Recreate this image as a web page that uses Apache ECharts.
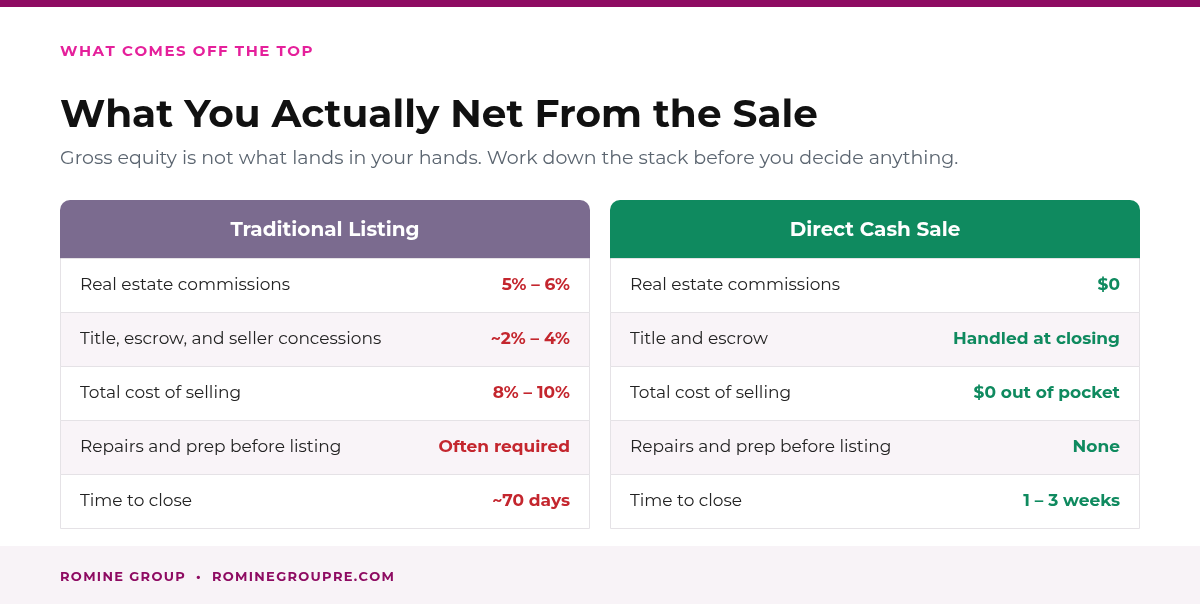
<!DOCTYPE html>
<html>
<head>
<meta charset="utf-8">
<script src="https://cdn.jsdelivr.net/npm/echarts@6/dist/echarts.min.js"></script>
<style>
  html, body { margin: 0; padding: 0; background: #fff; }
  #chart { width: 1200px; height: 604px; }
</style>
</head>
<body>
<div id="chart"></div>
<script>
const eyebrow = 'WHAT COMES OFF THE TOP';
const title = 'What You Actually Net From the Sale';
const subtitle = 'Gross equity is not what lands in your hands. Work down the stack before you decide anything.';
const footer = 'ROMINE GROUP  •  ROMINEGROUPRE.COM';

const panelTitles = ['Traditional Listing', 'Direct Cash Sale'];
const leftLabels = ['Real estate commissions', 'Title, escrow, and seller concessions', 'Total cost of selling', 'Repairs and prep before listing', 'Time to close'];
const leftValues = ['5% – 6%', '~2% – 4%', '8% – 10%', 'Often required', '~70 days'];
const rightLabels = ['Real estate commissions', 'Title and escrow', 'Total cost of selling', 'Repairs and prep before listing', 'Time to close'];
const rightValues = ['$0', 'Handled at closing', '$0 out of pocket', 'None', '1 – 3 weeks'];

const FONT = 'Montserrat, Lato, "Noto Sans", sans-serif';
const chart = echarts.init(document.getElementById('chart'));

function panel(x, head, headColor, labels, values, valColor) {
  const w = 530, top = 200, headH = 58, rowH = 54;
  const els = [];
  els.push({ type: 'rect', shape: { x: x, y: top, width: w, height: headH + 10, r: [10, 10, 0, 0] }, style: { fill: headColor } });
  els.push({ type: 'text', x: x + w / 2, y: top + headH / 2 + 1, style: { text: head, fill: '#fff', font: 'bold 20px ' + FONT, align: 'center', verticalAlign: 'middle' } });
  labels.forEach((lab, i) => {
    const y = top + headH + i * rowH;
    els.push({ type: 'rect', shape: { x: x + 0.5, y: y + 0.5, width: w - 1, height: rowH }, style: { fill: i % 2 ? '#F9F4F8' : '#fff', stroke: '#E5E2E6', lineWidth: 1 } });
    els.push({ type: 'text', x: x + 20, y: y + rowH / 2, style: { text: lab, fill: '#222', font: '17px ' + FONT, verticalAlign: 'middle' } });
    els.push({ type: 'text', x: x + w - 20, y: y + rowH / 2, style: { text: values[i], fill: valColor, font: 'bold 17px ' + FONT, align: 'right', verticalAlign: 'middle' } });
  });
  return els;
}

const graphics = [
  { type: 'rect', shape: { x: 0, y: 0, width: 1200, height: 7 }, style: { fill: '#8E0B62' } },
  { type: 'text', x: 60, y: 52, style: { text: eyebrow.split('').join('\u200A'), fill: '#E5209B', font: 'bold 15px ' + FONT, verticalAlign: 'middle' } },
  { type: 'text', x: 60, y: 116, style: { text: title, fill: '#111', font: 'bold 39px ' + FONT, verticalAlign: 'middle' } },
  { type: 'text', x: 60, y: 158, style: { text: subtitle, fill: '#5B6570', font: '19px ' + FONT, verticalAlign: 'middle' } },
  ...panel(60, panelTitles[0], '#7B6B8F', leftLabels, leftValues, '#C4262E'),
  ...panel(610, panelTitles[1], '#0F8A5F', rightLabels, rightValues, '#0F8A5F'),
  { type: 'rect', shape: { x: 0, y: 546, width: 1200, height: 58 }, style: { fill: '#F8F3F7' } },
  { type: 'text', x: 60, y: 577, style: { text: footer.split('').join('\u200A'), fill: '#8E0B62', font: 'bold 13px ' + FONT, verticalAlign: 'middle' } }
];

chart.setOption({ animation: false, graphic: { elements: graphics } });
window.addEventListener('resize', () => chart.resize());
</script>
</body>
</html>
